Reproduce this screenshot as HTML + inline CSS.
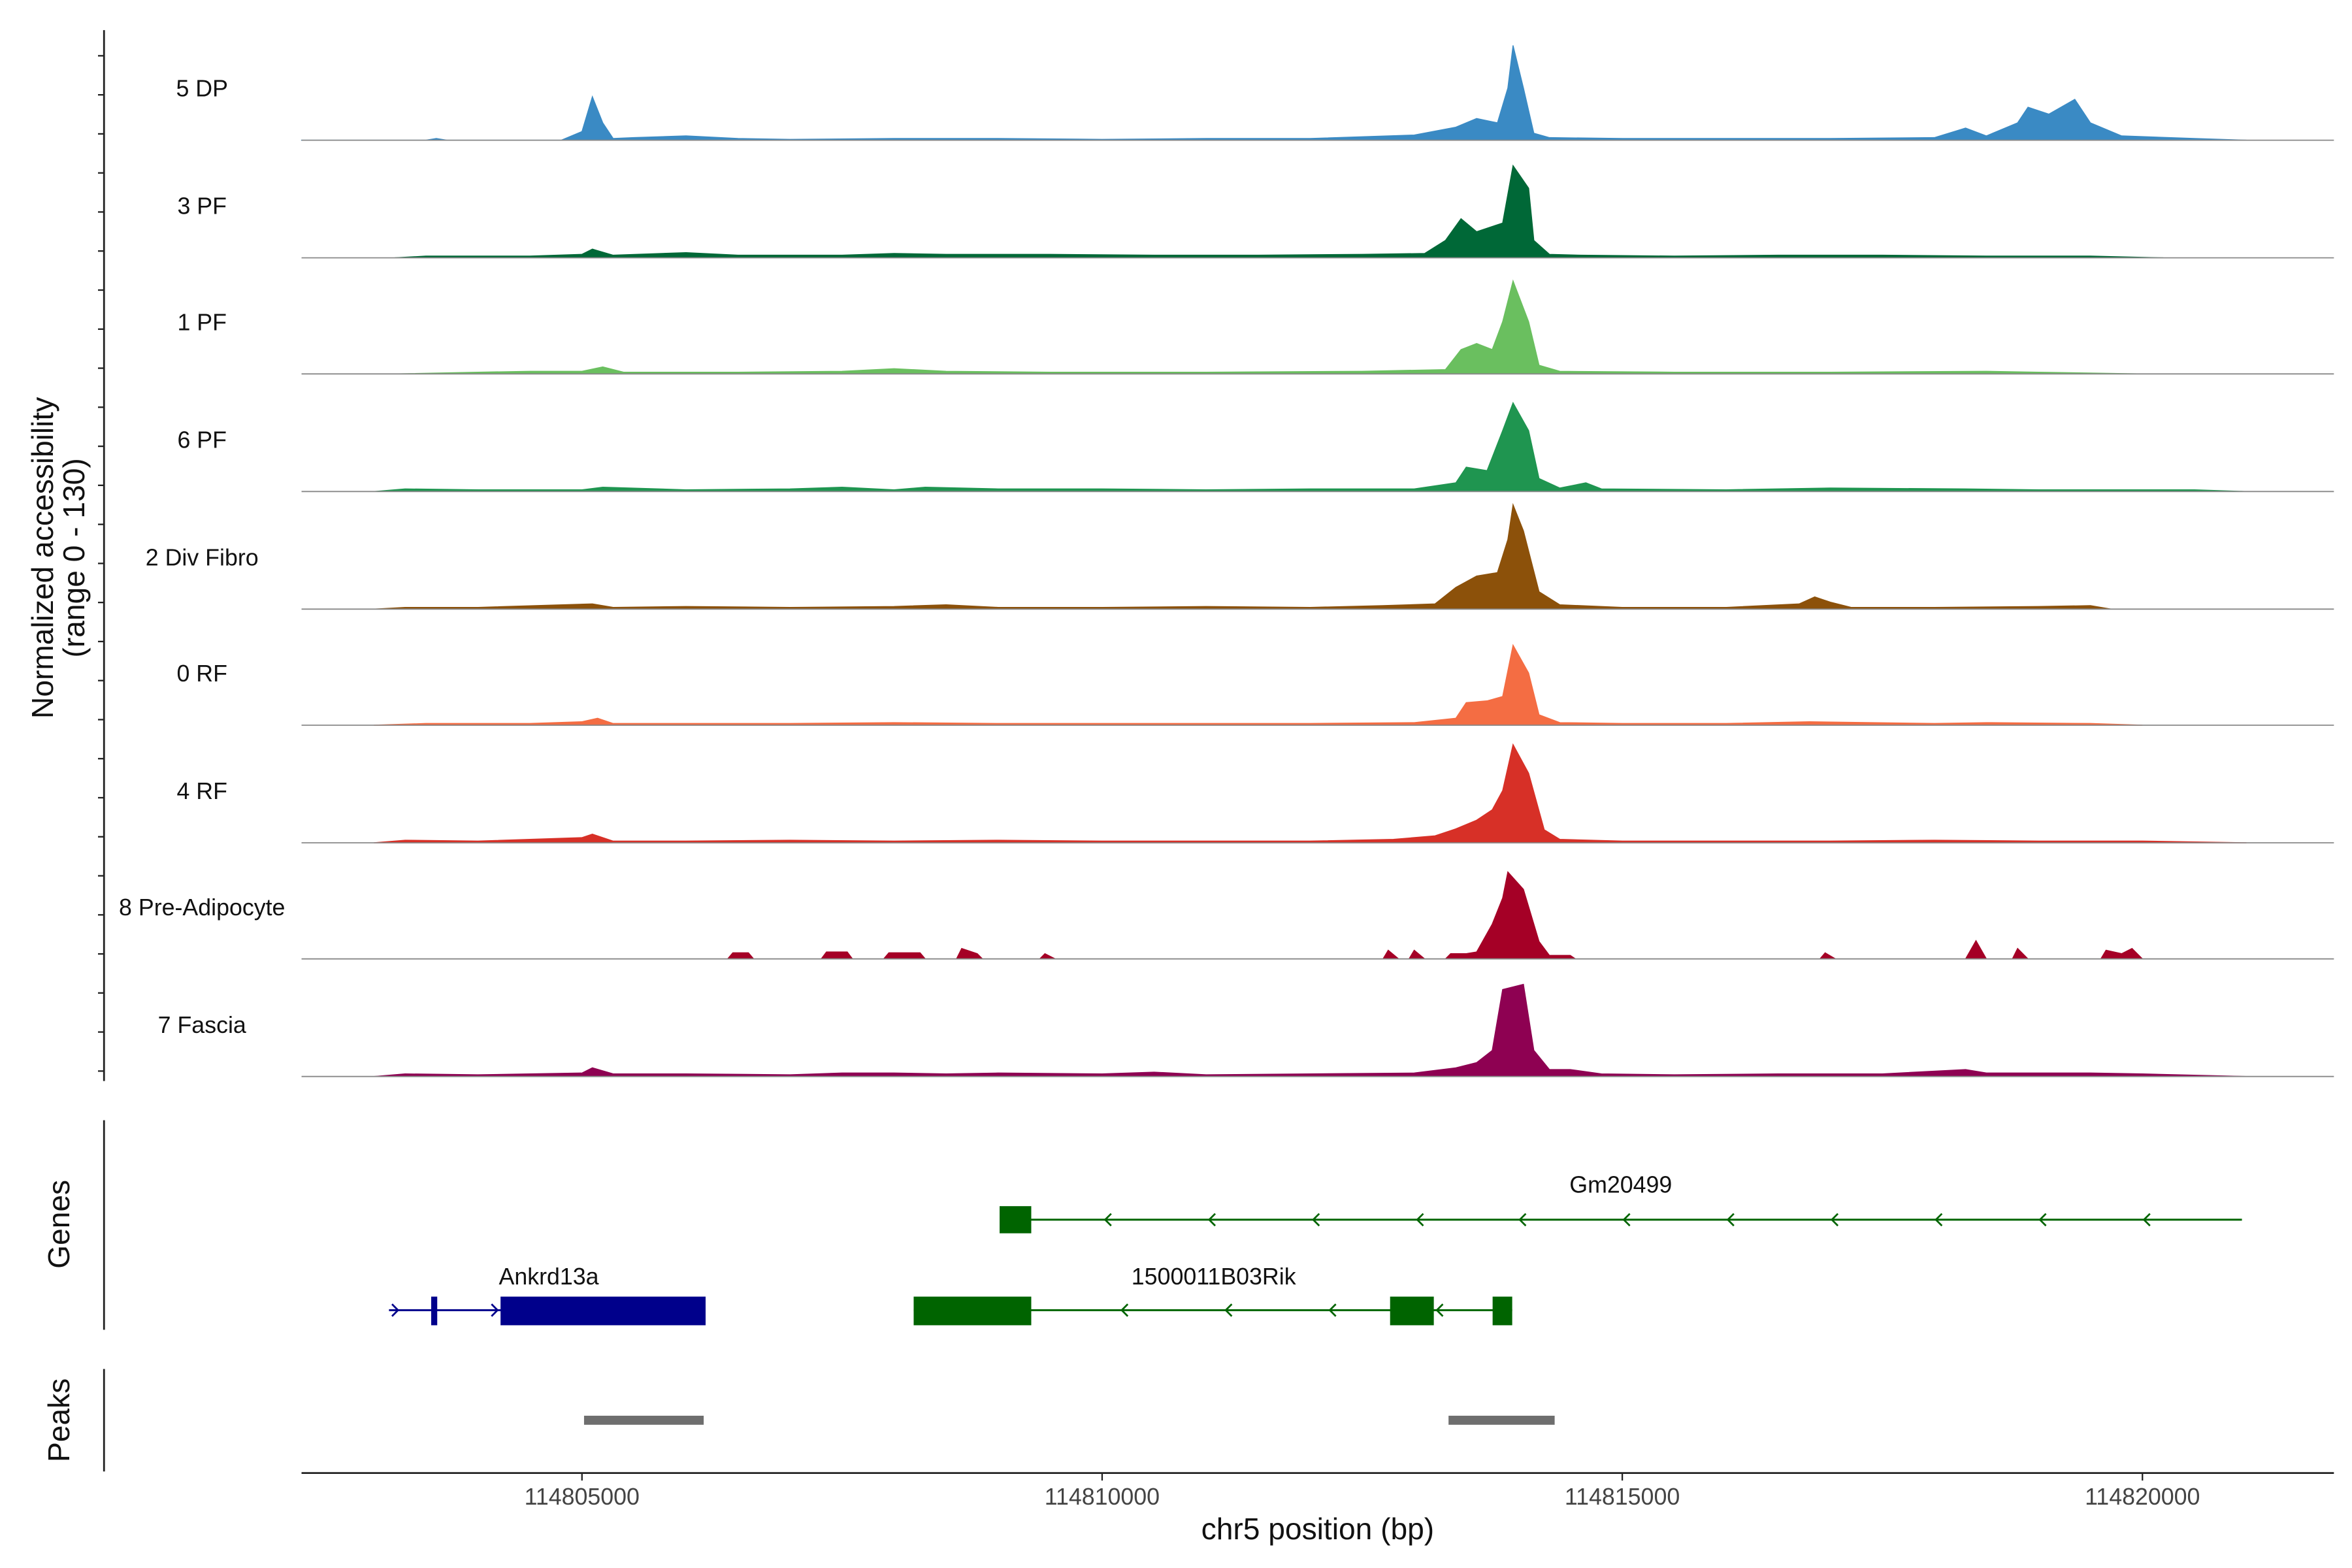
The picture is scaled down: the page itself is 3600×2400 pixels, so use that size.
<!DOCTYPE html>
<html><head><meta charset="utf-8"><style>
html,body{margin:0;padding:0;background:#fff}
svg{display:block;font-family:"Liberation Sans",Arial,sans-serif}
</style></head><body>
<svg id="chart" width="3600" height="2400" viewBox="0 0 1560 1040" xmlns="http://www.w3.org/2000/svg">
<rect width="1560" height="1040" fill="#fff"/>
<g id="tracks"></g>
<g id="axes"></g>
<g id="genes"></g>
<g id="peaks"></g>
</svg>
<script>
// ---- data (positions in kb offset from 114800000, values in normalized accessibility) ----
const trackNames = ["5 DP","3 PF","1 PF","6 PF","2 Div Fibro","0 RF","4 RF","8 Pre-Adipocyte","7 Fascia"];
const trackColors = ["#3a8ac4","#006837","#6abf5f","#1f9550","#8c510a","#f46d43","#d73027","#a50026","#8e0152"];
const sig5DP = [[2.3,0],[3.5,0],[3.6,2],[3.7,0],[4.8,0],[5.0,10],[5.1,50],[5.2,20],[5.3,2],[5.5,3],[6.0,5],[6.5,2],[7.0,1],[8.0,2],[9.0,2],[10,1],[11,2],[12,2],[12.5,4],[13.0,6],[13.4,15],[13.6,25],[13.8,20],[13.9,60],[13.95,109],[14.05,60],[14.15,8],[14.3,3],[15,2],[16,2],[17,2],[18,3],[18.3,14],[18.5,5],[18.8,20],[18.9,38],[19.1,30],[19.35,47],[19.5,20],[19.8,5],[20.5,2],[21,0]];
const sig3PF = [[3.2,0],[3.5,2],[4.5,2],[5.0,4],[5.1,10],[5.3,3],[6.0,6],[6.5,3],[7.5,3],[8.0,5],[8.5,4],[9.5,4],[10.5,3],[11.5,3],[12.5,4],[13.1,5],[13.3,20],[13.45,45],[13.6,30],[13.75,36],[13.85,40],[13.95,106],[14.1,80],[14.15,20],[14.3,4],[14.6,3],[15.5,2],[16.5,3],[17.5,3],[18.5,2],[19.5,2],[20.2,0]];
const sig1PF = [[3.2,0],[4.0,2],[4.5,3],[5.0,3],[5.2,8],[5.4,2],[6.5,2],[7.5,3],[8.0,6],[8.5,3],[9.5,2],[11,2],[12.5,3],[13.3,5],[13.45,28],[13.6,35],[13.75,28],[13.85,60],[13.95,107],[14.1,60],[14.2,10],[14.4,3],[15.5,2],[17,2],[18.5,3],[19,2],[20,0]];
const sig6PF = [[3.0,0],[3.3,3],[4.0,2],[5.0,2],[5.2,5],[6.0,2],[7.0,3],[7.5,5],[8.0,2],[8.3,5],[9.0,3],[10,3],[11,2],[12,3],[13,3],[13.4,10],[13.5,28],[13.7,24],[13.85,70],[13.95,102],[14.1,70],[14.2,15],[14.4,4],[14.65,10],[14.8,3],[16,2],[17,4],[18.3,3],[19,2],[20.5,2],[21,0]];
const sig2Div = [[3.0,0],[3.3,2],[4.0,2],[5.1,6],[5.3,2],[6.0,3],[7.0,2],[8.0,3],[8.5,5],[9.0,2],[10,2],[11,3],[12,2],[12.7,4],[13.2,6],[13.4,25],[13.6,38],[13.8,42],[13.9,80],[13.95,120],[14.05,90],[14.2,20],[14.4,5],[15,2],[16,2],[16.7,6],[16.85,14],[17.0,8],[17.2,2],[18,2],[19,3],[19.5,4],[19.7,0]];
const sig0RF = [[3.0,0],[3.5,2],[4.5,2],[5.0,4],[5.15,8],[5.3,2],[6.0,2],[7.0,2],[8.0,3],[9.0,2],[10,2],[11,2],[12,2],[13,3],[13.4,8],[13.5,26],[13.7,28],[13.85,33],[13.95,92],[14.1,60],[14.2,12],[14.4,3],[15,2],[16,2],[16.8,4],[18,2],[18.5,3],[19.5,2],[20,0]];
const sig4RF = [[3.0,0],[3.3,3],[4.0,2],[5.0,6],[5.1,10],[5.3,2],[6.0,2],[7.0,3],[8.0,2],[9.0,3],[10,2],[11,2],[12,2],[12.8,4],[13.2,8],[13.4,16],[13.6,26],[13.75,38],[13.85,60],[13.95,113],[14.1,80],[14.25,15],[14.4,4],[15,2],[16,2],[17,2],[18,3],[19,2],[20,2],[21,0]];
const sigPre = [[6.4,0],[6.45,7],[6.6,7],[6.65,0],[7.3,0],[7.35,8],[7.55,8],[7.6,0],[7.9,0],[7.95,7],[8.25,7],[8.3,0],[8.6,0],[8.65,12],[8.8,6],[8.85,0],[9.4,0],[9.45,6],[9.55,0],[12.7,0],[12.75,10],[12.85,0],[12.95,0],[13.0,10],[13.1,0],[13.3,0],[13.35,6],[13.5,6],[13.6,8],[13.75,40],[13.85,70],[13.9,100],[14.05,80],[14.2,20],[14.3,4],[14.5,4],[14.55,0],[16.9,0],[16.95,7],[17.05,0],[18.3,0],[18.4,21],[18.5,0],[18.75,0],[18.8,12],[18.9,0],[19.6,0],[19.65,10],[19.8,6],[19.9,12],[20.0,0]];
const sigFascia = [[3.0,0],[3.3,3],[4.0,2],[4.5,3],[5.0,4],[5.1,10],[5.3,3],[6.0,3],[7.0,2],[7.5,4],[8.0,4],[8.5,3],[9.0,4],[10,3],[10.5,5],[11,2],[12,3],[13,4],[13.4,10],[13.6,16],[13.75,30],[13.85,100],[14.05,106],[14.15,30],[14.3,8],[14.5,8],[14.8,3],[15.5,2],[16.5,3],[17.5,3],[18.3,8],[18.5,4],[19.5,4],[20,3],[21,0]];
const trackSignals = [sig5DP,sig3PF,sig1PF,sig6PF,sig2Div,sig0RF,sig4RF,sigPre,sigFascia];
const xTicks = [114805000,114810000,114815000,114820000];
const peakRanges = [[114805020,114806170],[114813330,114814350]];

const NS="http://www.w3.org/2000/svg";
function el(tag,attrs,parent,text){const e=document.createElementNS(NS,tag);for(const k in attrs)e.setAttribute(k,attrs[k]);if(text!==undefined)e.textContent=text;parent.appendChild(e);return e;}
const xBp = bp => 386 + (bp-114805000)/5000*345;
const xKb = kb => xBp(114800000+kb*1000);
const yVal = (v,base) => base - v*75/130;
const baselines=[93,171,248,326,404,481,559,636,714];

const tg=document.getElementById('tracks');
trackSignals.forEach((sig,i)=>{
  const b=baselines[i];
  const lbl=el('text',{x:134,y:b-29,'text-anchor':'middle','font-size':15.5,fill:'#111'},tg,trackNames[i]);
  
  
  let d='M'+xKb(sig[0][0])+','+b;
  sig.forEach(p=>{d+=' L'+xKb(p[0]).toFixed(2)+','+yVal(p[1],b).toFixed(2);});
  d+=' L'+xKb(sig[sig.length-1][0])+','+b+' Z';
  const a=el('path',{d:d,fill:trackColors[i],stroke:trackColors[i],'stroke-width':0.6},tg);
  
  
  const ln=el('line',{x1:200,x2:1548,y1:b,y2:b,stroke:'#888','stroke-width':0.8},tg);
  
  
});

const ax=document.getElementById('axes');
el('line',{x1:69,x2:69,y1:20,y2:717,stroke:'#222','stroke-width':1.2},ax);
for(let k=0;k<27;k++){const y=37+k*25.9;const t=el('line',{x1:65,x2:69,y1:y,y2:y,stroke:'#222','stroke-width':1},ax);
  
  }
el('text',{transform:'translate(35,370) rotate(-90)','text-anchor':'middle','font-size':20,fill:'#111'},ax,'Normalized accessibility');
el('text',{transform:'translate(56,370) rotate(-90)','text-anchor':'middle','font-size':20,fill:'#111'},ax,'(range 0 - 130)');
el('line',{x1:69,x2:69,y1:743,y2:882,stroke:'#222','stroke-width':1.2},ax);
el('text',{transform:'translate(46,812) rotate(-90)','text-anchor':'middle','font-size':20,fill:'#111'},ax,'Genes');
el('line',{x1:69,x2:69,y1:908,y2:976,stroke:'#222','stroke-width':1.2},ax);
el('text',{transform:'translate(46,942) rotate(-90)','text-anchor':'middle','font-size':20,fill:'#111'},ax,'Peaks');
el('line',{x1:200,x2:1548,y1:977,y2:977,stroke:'#222','stroke-width':1.2},ax);
xTicks.forEach(v=>{const x=xBp(v);
  const t=el('line',{x1:x,x2:x,y1:977,y2:982,stroke:'#222','stroke-width':1},ax);
  
  
  const l=el('text',{x:x,y:998,'text-anchor':'middle','font-size':15.5,fill:'#444'},ax,String(v));
  
  });
el('text',{x:874,y:1021,'text-anchor':'middle','font-size':20,fill:'#111'},ax,'chr5 position (bp)');

const g=document.getElementById('genes');
const green='#006400', navy='#00008b';
function chev(x,y,dir,c){const s=4;el('path',{d:dir<0?`M${x+s},${y-s} L${x},${y} L${x+s},${y+s}`:`M${x-s},${y-s} L${x},${y} L${x-s},${y+s}`,fill:'none',stroke:c,'stroke-width':1.2},g);}
// Gm20499
el('line',{x1:663,x2:1487,y1:809,y2:809,stroke:green,'stroke-width':1.3},g);
el('rect',{x:663,y:800,width:21,height:18,fill:green},g);
[733,802,871,940,1008,1077,1146,1215,1284,1353,1422].forEach(x=>chev(x,809,-1,green));
el('text',{x:1075,y:791,'text-anchor':'middle','font-size':15.5,fill:'#111'},g,'Gm20499');
// Ankrd13a
el('line',{x1:258,x2:468,y1:869,y2:869,stroke:navy,'stroke-width':1.3},g);
el('rect',{x:286,y:860,width:4,height:19,fill:navy},g);
el('rect',{x:332,y:860,width:136,height:19,fill:navy},g);
[264,330].forEach(x=>chev(x,869,1,navy));
el('text',{x:364,y:852,'text-anchor':'middle','font-size':15.5,fill:'#111'},g,'Ankrd13a');
// 1500011B03Rik
el('line',{x1:606,x2:1003,y1:869,y2:869,stroke:green,'stroke-width':1.3},g);
el('rect',{x:606,y:860,width:78,height:19,fill:green},g);
el('rect',{x:922,y:860,width:29,height:19,fill:green},g);
el('rect',{x:990,y:860,width:13,height:19,fill:green},g);
[744,813,882,953].forEach(x=>chev(x,869,-1,green));
el('text',{x:805,y:852,'text-anchor':'middle','font-size':15.5,fill:'#111'},g,'1500011B03Rik');

const pk=document.getElementById('peaks');
peakRanges.forEach(r=>{const p=el('rect',{x:xBp(r[0]),y:939,width:xBp(r[1])-xBp(r[0]),height:6,fill:'#6e6e6e'},pk);
  
  });
</script>
</body></html>
